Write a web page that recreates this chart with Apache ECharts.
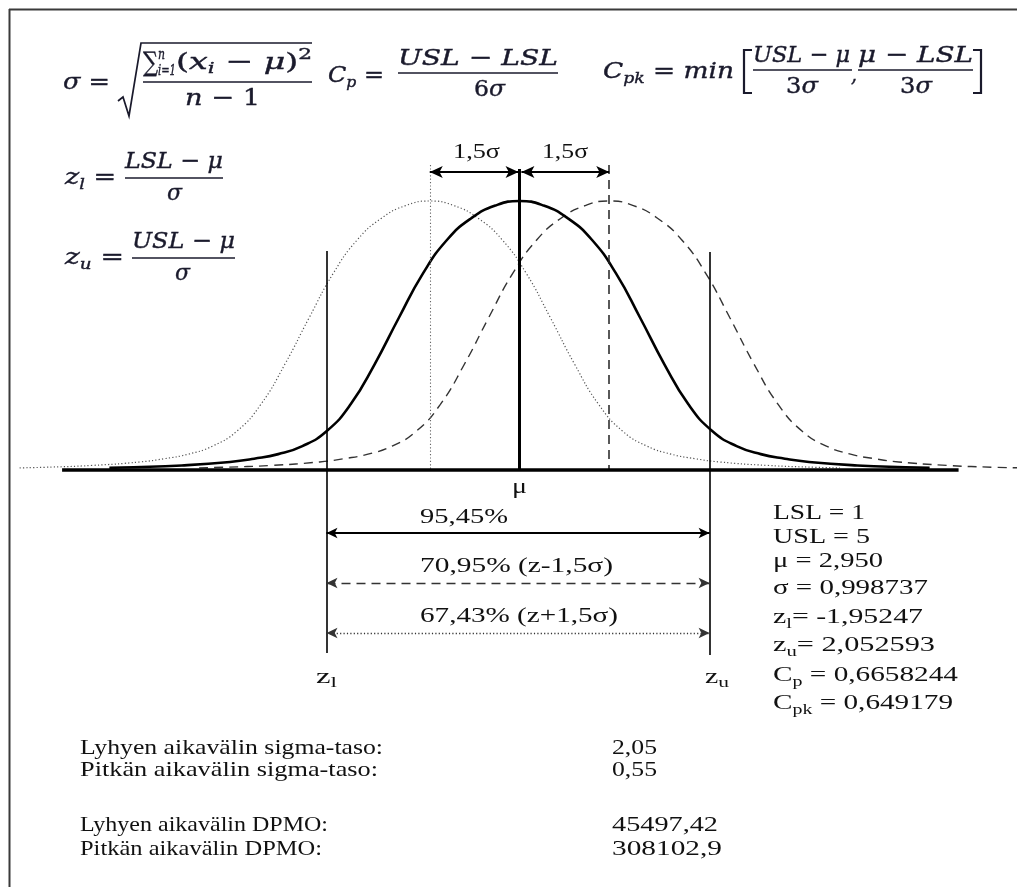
<!DOCTYPE html>
<html><head><meta charset="utf-8">
<script src="https://cdn.jsdelivr.net/npm/echarts@6/dist/echarts.min.js"></script>
<style>html,body{margin:0;padding:0;background:#fff}#c{width:1017px;height:887px}</style>
</head><body><div id="c"></div>
<script>
// ---------------- data ----------------
// normalised curve profile: offset from the mean (x units) -> relative height
const profileOffsets = [0, 0.25, 0.5, 0.75, 1, 1.25, 1.5, 1.75, 2, 2.25, 2.5, 2.75, 3, 3.5, 4, 4.25];
const profileHeights = [1.000, 0.983, 0.936, 0.856, 0.731, 0.566, 0.394, 0.244, 0.144, 0.089, 0.059, 0.042, 0.030, 0.017, 0.010, 0.008];
const curveNames = ['z+1,5σ', 'lyhyt aikaväli', 'z-1,5σ'];
const curveMeans = [-0.93, 0, 0.93];
const specLines = [-2.0, 1.97];          // z_l and z_u limit lines
const baselineExtent = [-4.74, 4.55];
const coverageLabels = ['95,45%', '70,95% (z-1,5σ)', '67,43% (z+1,5σ)'];
const shiftLabel = '1,5σ';
const statRows = [
  ['LSL = 1'], ['USL = 5'], ['μ = 2,950'], ['σ = 0,998737'],
  ['z', 'l', '= -1,95247'], ['z', 'u', '= 2,052593'],
  ['C', 'p', ' = 0,6658244'], ['C', 'pk', ' = 0,649179']
];
const sigmaLabels = ['Lyhyen aikavälin sigma-taso:', 'Pitkän aikavälin sigma-taso:'];
const sigmaValues = ['2,05', '0,55'];
const dpmoLabels = ['Lyhyen aikavälin DPMO:', 'Pitkän aikavälin DPMO:'];
const dpmoValues = ['45497,42', '308102,9'];

// ---------------- layout ----------------
const W = 1017, H = 887;
const X0 = 519.5, PXU = 96.5, Y0 = 470, PXH = 269;
const xMin = -X0 / PXU, xMax = (W - X0) / PXU, yMin = -(H - Y0) / PXH, yMax = Y0 / PXH;
const yAt = py => (Y0 - py) / PXH;

const chart = echarts.init(document.getElementById('c'), null, { renderer: 'canvas' });

function curve(m) {
  const pts = [];
  for (let k = profileOffsets.length - 1; k > 0; k--) pts.push([m - profileOffsets[k], profileHeights[k]]);
  for (let k = 0; k < profileOffsets.length; k++) pts.push([m + profileOffsets[k], profileHeights[k]]);
  return pts;
}

// text helpers
const mctx = document.createElement('canvas').getContext('2d');
function adv(t, f) { mctx.font = f; return mctx.measureText(t).width; }
const G = [];
function row(pieces, x1, x2, yc, color, heavy) {
  const ws = pieces.map(p => adv(p.t, p.f));
  const tot = ws.reduce((a, b) => a + b, 0);
  const sx = (x2 - x1) / tot;
  let cx = x1;
  pieces.forEach((p, i) => {
    const st = { text: p.t, font: p.f, fill: color || '#111', textAlign: 'left', textVerticalAlign: 'middle', align: 'left', verticalAlign: 'middle' };
    if (heavy) { st.stroke = color; st.lineWidth = heavy; }
    G.push({ type: 'text', x: cx, y: yc + (p.dy || 0), scaleX: sx, silent: true, z: 100, style: st });
    cx += ws[i] * sx;
  });
}
function hline(x1, x2, y, w, c) {
  G.push({ type: 'line', silent: true, z: 100, shape: { x1: x1, y1: y, x2: x2, y2: y }, style: { stroke: c || '#1a1a1a', lineWidth: w || 1.3 } });
}
function poly(points, w, c) {
  G.push({ type: 'polyline', silent: true, z: 100, shape: { points: points }, style: { stroke: c || '#1a1a1a', lineWidth: w || 1.5, fill: null } });
}

const MC = '#1a1a2c', HV = 0.4;
const M = 'italic 23px "DejaVu Serif"', MU = '23px "DejaVu Serif"', MS = 'italic 15px "DejaVu Serif"', MSU = '15px "DejaVu Serif"', MBIG = '27px "DejaVu Serif"';
const B = '21px "Liberation Serif"', BS = '15px "Liberation Serif"', R = '22px "Liberation Serif"', RS = '15px "Liberation Serif"';
function mrow(p, x1, x2, y) { row(p, x1, x2, y, MC, HV); }

// frame
G.push({ type: 'line', silent: true, shape: { x1: 9, y1: 9.5, x2: W, y2: 9.5 }, style: { stroke: '#3a3a3a', lineWidth: 2 } });
G.push({ type: 'line', silent: true, shape: { x1: 9.5, y1: 9, x2: 9.5, y2: H }, style: { stroke: '#3a3a3a', lineWidth: 2 } });

// sigma formula
mrow([{ t: 'σ', f: M }, { t: ' =', f: MU }], 63, 110, 83);
poly([[118, 101], [123, 97], [129, 116], [141, 43], [312, 43]], 1.7, MC);
mrow([{ t: '∑', f: MBIG }], 143, 158, 64);
mrow([{ t: 'n', f: MS }], 158, 165, 55);
mrow([{ t: 'i=1', f: MS }], 158, 176, 71);
mrow([{ t: '(', f: MU }, { t: 'x', f: M }, { t: 'i', f: MS, dy: 6 }, { t: ' − ', f: MU }, { t: 'μ', f: M }, { t: ')', f: MU }, { t: '2', f: MSU, dy: -8 }], 176, 312, 63);
hline(143, 312, 82, 1.4, MC);
mrow([{ t: 'n', f: M }, { t: ' − 1', f: MU }], 185, 260, 99);

// Cp
mrow([{ t: 'C', f: M }, { t: 'p', f: MS, dy: 7 }, { t: ' =', f: MU }], 328, 384, 76);
mrow([{ t: 'USL', f: M }, { t: ' − ', f: MU }, { t: 'LSL', f: M }], 398, 558, 59);
hline(398, 558, 73, 1.4, MC);
mrow([{ t: '6', f: MU }, { t: 'σ', f: M }], 474, 505, 90);

// Cpk
mrow([{ t: 'C', f: M }, { t: 'pk', f: MS, dy: 7 }, { t: ' = ', f: MU }, { t: 'min', f: M }], 603, 734, 72);
poly([[752, 50], [744, 50], [744, 93], [752, 93]], 2.2, MC);
mrow([{ t: 'USL', f: M }, { t: ' − ', f: MU }, { t: 'μ', f: M }], 753, 850, 56);
hline(753, 852, 70, 1.4, MC);
mrow([{ t: '3', f: MU }, { t: 'σ', f: M }], 786, 818, 87);
mrow([{ t: ',', f: M }], 851, 857, 76);
mrow([{ t: 'μ', f: M }, { t: ' − ', f: MU }, { t: 'LSL', f: M }], 858, 973, 56);
hline(858, 973, 70, 1.4, MC);
mrow([{ t: '3', f: MU }, { t: 'σ', f: M }], 900, 932, 87);
poly([[973, 50], [981, 50], [981, 93], [973, 93]], 2.2, MC);

// z_l, z_u
mrow([{ t: 'z', f: M }, { t: 'l', f: MS, dy: 7 }, { t: ' =', f: MU }], 65, 116, 178);
mrow([{ t: 'LSL', f: M }, { t: ' − ', f: MU }, { t: 'μ', f: M }], 125, 223, 162);
hline(125, 223, 178, 1.4, MC);
mrow([{ t: 'σ', f: M }], 167, 182, 194);
mrow([{ t: 'z', f: M }, { t: 'u', f: MS, dy: 7 }, { t: ' =', f: MU }], 65, 124, 258);
mrow([{ t: 'USL', f: M }, { t: ' − ', f: MU }, { t: 'μ', f: M }], 132, 235, 242);
hline(132, 235, 258, 1.4, MC);
mrow([{ t: 'σ', f: M }], 175, 190, 274);

// chart annotations
row([{ t: shiftLabel, f: B }], 453, 500, 152);
row([{ t: shiftLabel, f: B }], 542, 588, 152);
row([{ t: 'μ', f: B }], 512, 527, 487);
const covX2 = [508, 613, 618], covY = [517, 566, 616];
coverageLabels.forEach((t, i) => row([{ t: t, f: B }], 420, covX2[i], covY[i]));
row([{ t: 'z', f: B }, { t: 'l', f: BS, dy: 6 }], 316, 337, 677);
row([{ t: 'z', f: B }, { t: 'u', f: BS, dy: 6 }], 705, 729, 677);

// stats block
const statX2 = [865, 870, 883, 928, 923, 935, 958, 953];
const statY = [513, 537, 561, 588, 617, 645, 675, 703];
statRows.forEach((r, i) => {
  const pcs = r.length === 1 ? [{ t: r[0], f: R }] : [{ t: r[0], f: R }, { t: r[1], f: RS, dy: 7 }, { t: r[2], f: R }];
  row(pcs, 773, statX2[i], statY[i]);
});

// bottom block
const sigX2 = [383, 378], sigValX2 = [657, 657], sigY = [748, 770];
sigmaLabels.forEach((t, i) => row([{ t: t, f: B }], 80, sigX2[i], sigY[i]));
sigmaValues.forEach((t, i) => row([{ t: t, f: B }], 612, sigValX2[i], sigY[i]));
const dpX2 = [328, 322], dpValX2 = [718, 722], dpY = [825, 849];
dpmoLabels.forEach((t, i) => row([{ t: t, f: B }], 80, dpX2[i], dpY[i]));
dpmoValues.forEach((t, i) => row([{ t: t, f: B }], 612, dpValX2[i], dpY[i]));

// mark lines (vertical reference lines and arrows)
const DOT = [1.2, 2.2], DASH = [9, 6];
function vline(x, y1, y2, ls) {
  return [{ coord: [x, y1], symbol: 'none', lineStyle: ls }, { coord: [x, y2], symbol: 'none', lineStyle: ls }];
}
function arrow(x1, x2, y, ls, size) {
  const s = size || [8, 11];
  return [{ coord: [x1, y], symbol: 'arrow', symbolSize: s, lineStyle: ls, itemStyle: { color: '#000' } },
          { coord: [x2, y], symbol: 'arrow', symbolSize: s, lineStyle: ls, itemStyle: { color: '#000' } }];
}
const lsDot = { color: '#666', width: 1.1, type: DOT };
const lsDash = { color: '#222', width: 1.5, type: DASH };
const lsSolid = { color: '#000', width: 3, type: 'solid' };
const lsSpec = { color: '#000', width: 1.6, type: 'solid' };
const markData = [
  vline(curveMeans[0], yAt(165), 0, lsDot),
  vline(curveMeans[1], yAt(169), 0, lsSolid),
  vline(curveMeans[2], yAt(165), 0, lsDash),
  vline(specLines[0], yAt(251), yAt(653), lsSpec),
  vline(specLines[1], yAt(252), yAt(655), lsSpec),
  arrow(curveMeans[0], curveMeans[1] - 0.01, yAt(172), { color: '#000', width: 2.2, type: 'solid' }, [9, 13]),
  arrow(curveMeans[1] + 0.02, curveMeans[2], yAt(172), { color: '#000', width: 2.2, type: 'solid' }, [9, 13]),
  arrow(specLines[0], specLines[1], yAt(533), { color: '#000', width: 1.8, type: 'solid' }),
  arrow(specLines[0], specLines[1], yAt(583), { color: '#333', width: 1.4, type: DASH }),
  arrow(specLines[0], specLines[1], yAt(633), { color: '#333', width: 1.3, type: DOT })
];

const option = {
  animation: false,
  backgroundColor: '#fff',
  grid: { left: 0, right: 0, top: 0, bottom: 0, containLabel: false },
  xAxis: { type: 'value', min: xMin, max: xMax, show: false, splitLine: { show: false } },
  yAxis: { type: 'value', min: yMin, max: yMax, show: false, splitLine: { show: false } },
  series: [
    { type: 'line', name: curveNames[0], data: curve(curveMeans[0]), symbol: 'none', smooth: 0.5, silent: true, z: 2,
      lineStyle: { color: '#555', width: 1.2, type: DOT } },
    { type: 'line', name: curveNames[2], data: curve(curveMeans[2]), symbol: 'none', smooth: 0.5, silent: true, z: 2,
      lineStyle: { color: '#333', width: 1.4, type: DASH } },
    { type: 'line', name: curveNames[1], data: curve(curveMeans[1]), symbol: 'none', smooth: 0.5, silent: true, z: 3,
      lineStyle: { color: '#000', width: 2.6 } },
    { type: 'line', name: 'baseline', data: baselineExtent.map(x => [x, 0]), symbol: 'none', silent: true, z: 5,
      lineStyle: { color: '#000', width: 3.5 },
      markLine: { silent: true, animation: false, symbol: ['none', 'none'], label: { show: false },
        emphasis: { disabled: true }, data: markData } }
  ],
  graphic: { elements: G }
};
chart.setOption(option);
</script>
</body></html>
